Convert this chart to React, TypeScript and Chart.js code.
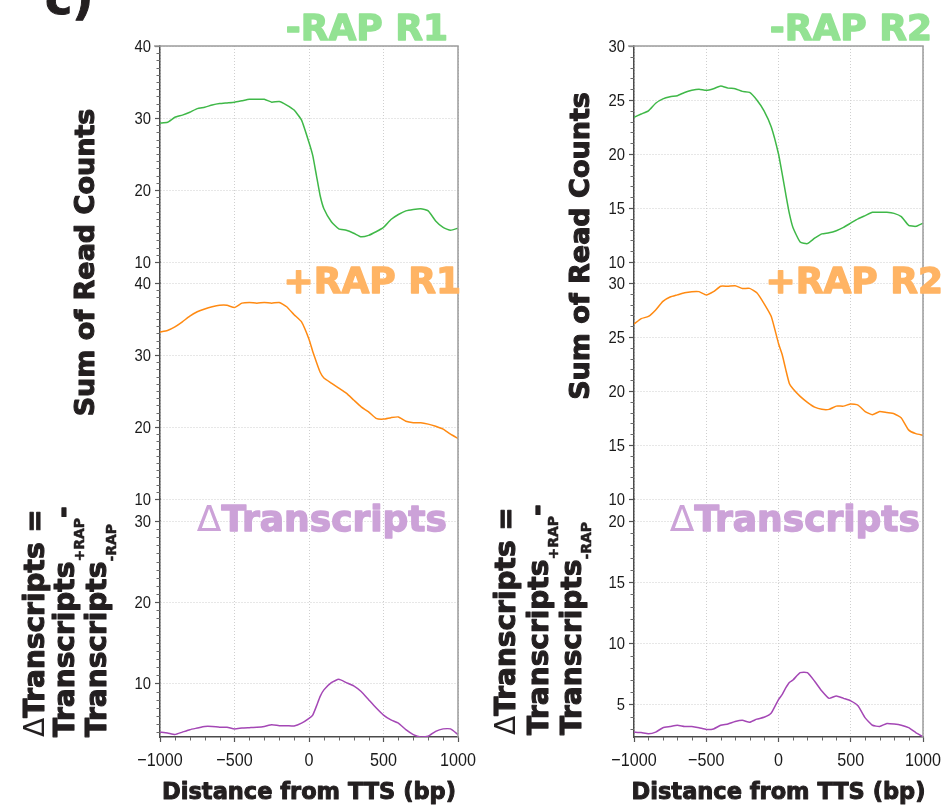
import React, { useEffect, useRef } from 'react';
import { Chart, registerables } from 'chart.js';
Chart.register(...registerables);

// ---------------- data ----------------
const DIST = [
  -1000, -950, -900, -850, -800, -750, -700, -650, -600, -550,
  -500, -450, -400, -350, -300, -250, -200, -150, -100, -50,
  0, 25, 50, 75, 100,
  150, 200, 250, 300, 350, 400, 450, 500, 550, 600, 650, 700, 750, 800, 850, 900, 950, 1000,
];

const MINUS_R1 = [
  29.3, 29.4, 30.1, 30.4, 30.8, 31.3, 31.5, 31.8, 32.0, 32.1,
  32.2, 32.4, 32.6, 32.6, 32.6, 32.2, 32.3, 31.8, 31.1, 29.7,
  26.6, 24.8, 22.0, 19.2, 17.4,
  15.6, 14.6, 14.4, 14.0, 13.5, 13.7, 14.2, 14.8, 15.9, 16.6, 17.1, 17.3, 17.4, 17.1, 15.7, 14.8, 14.4, 14.7,
];
const PLUS_R1 = [
  33.2, 33.4, 33.9, 34.6, 35.4, 36.0, 36.4, 36.7, 36.9, 36.9,
  36.6, 37.2, 37.3, 37.2, 37.3, 37.2, 37.3, 36.7, 35.6, 34.6,
  32.2, 30.5, 29.0, 27.6, 26.8,
  26.1, 25.4, 24.7, 23.75, 22.8, 22.1, 21.2, 21.1, 21.3, 21.4, 20.8, 20.6, 20.6, 20.4, 20.1, 19.7, 19.0, 18.4,
];
const DELTA_R1 = [
  4.0, 3.9, 3.7, 4.0, 4.3, 4.5, 4.7, 4.7, 4.6, 4.6,
  4.4, 4.5, 4.55, 4.6, 4.7, 4.9, 4.8, 4.8, 4.75, 5.1,
  5.7, 6.1, 7.2, 8.4, 9.2,
  10.1, 10.5, 10.1, 9.7, 9.0, 8.0, 7.0, 6.1, 5.5, 5.1, 4.3, 3.7, 3.4, 3.5, 4.1, 4.4, 4.4, 3.7,
];
const MINUS_R2 = [
  23.4, 23.7, 24.0, 24.7, 25.1, 25.3, 25.4, 25.7, 25.9, 26.0,
  25.9, 26.05, 26.3, 26.1, 26.05, 25.8, 25.7, 25.0, 24.0, 22.5,
  20.0, 18.2, 16.3, 14.5, 13.2,
  11.85, 11.7, 12.2, 12.6, 12.7, 12.9, 13.2, 13.6, 14.0, 14.3, 14.6, 14.6, 14.6, 14.5, 14.2, 13.4, 13.3, 13.6,
];
const PLUS_R2 = [
  26.2, 26.7, 26.9, 27.5, 28.3, 28.7, 28.9, 29.1, 29.2, 29.2,
  28.9, 29.2, 29.7, 29.7, 29.75, 29.5, 29.5, 29.1, 28.1, 26.9,
  24.4, 23.4, 22.0, 20.7, 20.2,
  19.5, 18.95, 18.5, 18.3, 18.3, 18.6, 18.6, 18.8, 18.7, 18.1, 17.8, 18.1, 18.0, 17.9, 17.5, 16.4, 16.05, 15.9,
];
const DELTA_R2 = [
  2.74, 2.7, 2.6, 2.74, 3.1, 3.2, 3.3, 3.2, 3.2, 3.1,
  2.96, 3.0, 3.3, 3.4, 3.6, 3.7, 3.55, 3.8, 3.95, 4.3,
  5.4, 5.8, 6.35, 6.8, 7.0,
  7.6, 7.6, 6.9, 6.1, 5.5, 5.7, 5.5, 5.3, 4.9, 3.9, 3.3, 3.2, 3.45, 3.4, 3.3, 3.1, 2.7, 2.35,
];

const X_TICKS = [-1000, -500, 0, 500, 1000];
const Y_TICKS_R1 = [10, 20, 30, 40];
const Y_TICKS_R1_DELTA = [10, 20, 30];
const Y_TICKS_R2 = [10, 15, 20, 25, 30];
const Y_TICKS_R2_DELTA = [5, 10, 15, 20];

const TITLES_R1 = ['-RAP R1', '+RAP R1', 'Transcripts'];
const TITLES_R2 = ['-RAP R2', '+RAP R2', 'Transcripts'];
const Y_LABEL = 'Sum of Read Counts';
const X_LABEL = 'Distance from TTS (bp)';
const PANEL_LETTER = 'c)';

// ---------------- styles ----------------
const TICK_FONT = "'Liberation Sans', Arial, sans-serif";
const BOLD = "'DejaVu Sans', sans-serif";
const C_MINUS = '#3fb848';
const C_PLUS = '#ff8a12';
const C_DELTA = '#a447b5';
const T_MINUS = '#93e293';
const T_PLUS = '#ffb464';
const T_DELTA = '#cca2d8';
const INK = '#231f20';

type Seg = { t: string; f: string; dy?: number; w?: number };

function drawRun(ctx: CanvasRenderingContext2D, segs: Seg[], x: number, y: number, rotate: boolean, align: string, color: string) {
  ctx.save();
  ctx.translate(x, y);
  if (rotate) ctx.rotate(-Math.PI / 2);
  ctx.textBaseline = 'alphabetic';
  ctx.textAlign = 'left';
  ctx.fillStyle = color;
  ctx.strokeStyle = color;
  ctx.lineJoin = 'round';
  let total = 0;
  for (const s of segs) { ctx.font = s.f; total += ctx.measureText(s.t).width; }
  let cx = align === 'right' ? -total : align === 'center' ? -total / 2 : 0;
  for (const s of segs) {
    ctx.font = s.f;
    ctx.fillText(s.t, cx, s.dy || 0);
    if (s.w) {
      ctx.lineWidth = s.w;
      ctx.strokeText(s.t, cx, s.dy || 0);
    }
    cx += ctx.measureText(s.t).width;
  }
  ctx.restore();
}

function drawSquashed(ctx: CanvasRenderingContext2D, text: string, x: number, y: number, align: string, font: string, sx: number) {
  ctx.save();
  ctx.font = font;
  ctx.fillStyle = '#1a1a1a';
  ctx.textBaseline = 'alphabetic';
  ctx.textAlign = 'left';
  const w = ctx.measureText(text).width * sx;
  const left = align === 'right' ? x - w : align === 'center' ? x - w / 2 : x;
  ctx.translate(left, y);
  ctx.scale(sx, 1);
  ctx.fillText(text, 0, 0);
  ctx.restore();
}

type ColCfg = {
  padLeft: number; padRight: number;
  ranges: [number, number][]; majors: number[][];
  series: number[][]; titles: string[];
  titleRight: number[]; titleBase: number[];
  yLabelX: number; yLabelY: number;
  dLabelX: number[]; dLabelY: number;
  letter: boolean;
};

const COLS: ColCfg[] = [
  {
    padLeft: 120, padRight: 945 - 458,
    ranges: [[10, 40], [10, 40], [3.4, 30]],
    majors: [Y_TICKS_R1, Y_TICKS_R1, Y_TICKS_R1_DELTA],
    series: [MINUS_R1, PLUS_R1, DELTA_R1],
    titles: TITLES_R1,
    titleRight: [448, 461, 447], titleBase: [40, 293, 531],
    yLabelX: 94, yLabelY: 262.5,
    dLabelX: [44, 74, 106], dLabelY: 737,
    letter: true,
  },
  {
    padLeft: 594, padRight: 945 - 923,
    ranges: [[10, 30], [10, 30], [2.34, 20]],
    majors: [Y_TICKS_R2, Y_TICKS_R2, Y_TICKS_R2_DELTA],
    series: [MINUS_R2, PLUS_R2, DELTA_R2],
    titles: TITLES_R2,
    titleRight: [932, 943, 920], titleBase: [40, 293, 531],
    yLabelX: 589, yLabelY: 246,
    dLabelX: [515, 548, 581], dLabelY: 735,
    letter: false,
  },
];

const AXIS_IDS = ['yA', 'gap1', 'yB', 'gap2', 'yC'];
const STACK_W = [216, 21, 216, 22, 216];

function makeConfig(col: ColCfg): any {
  const pts = (arr: number[]) => DIST.map((x, i) => ({ x, y: arr[i] }));
  const scales: any = {
    x: {
      type: 'linear', min: -1000, max: 1000,
      afterFit: (s: any) => { s.height = 60; },
      afterBuildTicks: (s: any) => { s.ticks = X_TICKS.map((v) => ({ value: v })); },
      ticks: { display: false, autoSkip: false, maxRotation: 0 },
      grid: { color: '#cfcfcf', lineWidth: 1, tickLength: 5, tickColor: '#555', tickWidth: 1.2 },
      border: { display: true, color: '#4a4a4a', width: 1.5, dash: [1, 2] },
    },
  };
  AXIS_IDS.forEach((id, k) => {
    const isGap = id.startsWith('gap');
    const base: any = {
      type: 'linear', position: 'left', stack: 'col', stackWeight: STACK_W[k], weight: 10 - k,
      afterFit: (s: any) => { s.width = 40; },
      border: { display: true, color: '#4a4a4a', width: 1.5, dash: [1, 2] },
    };
    if (isGap) {
      scales[id] = { ...base, min: 0, max: 1, ticks: { display: false }, grid: { display: false } };
    } else {
      const p = k / 2;
      const majors = col.majors[p];
      scales[id] = {
        ...base,
        min: col.ranges[p][0], max: col.ranges[p][1],
        afterBuildTicks: (s: any) => { s.ticks = majors.map((v) => ({ value: v })); },
        ticks: { display: false, autoSkip: false },
        grid: { color: '#cfcfcf', lineWidth: 1, tickLength: 5, tickColor: '#555', tickWidth: 1.2 },
      };
    }
  });

  const colors = [C_MINUS, C_PLUS, C_DELTA];
  const axisFor = ['yA', 'yB', 'yC'];
  const datasets = col.series.map((s, i) => ({
    data: pts(s), yAxisID: axisFor[i], xAxisID: 'x',
    borderColor: colors[i], borderWidth: 1.5, pointRadius: 0, fill: false, tension: 0.15,
  }));

  const decor = {
    id: 'decor',
    afterDraw(chart: any) {
      const ctx: CanvasRenderingContext2D = chart.ctx;
      const ca = chart.chartArea;
      ctx.save();
      // minor ticks on y axes + tick labels
      ctx.strokeStyle = '#6a6a6a';
      ctx.lineWidth = 1;
      ['yA', 'yB', 'yC'].forEach((id, p) => {
        const s = chart.scales[id];
        const majors = col.majors[p];
        for (let v = Math.ceil(s.min); v <= s.max; v++) {
          if (majors.includes(v)) continue;
          const y = Math.round(s.getPixelForValue(v)) + 0.5;
          ctx.beginPath();
          ctx.moveTo(ca.left - 3.5, y);
          ctx.lineTo(ca.left, y);
          ctx.stroke();
        }
        for (const v of majors) {
          drawSquashed(ctx, String(v), ca.left - 9, s.getPixelForValue(v) + 6, 'right', `17px ${TICK_FONT}`, 0.87);
        }
      });
      // minor ticks on x axis + labels
      const xs = chart.scales.x;
      for (let v = -900; v < 1000; v += 100) {
        if (X_TICKS.includes(v)) continue;
        const x = Math.round(xs.getPixelForValue(v)) + 0.5;
        ctx.beginPath();
        ctx.moveTo(x, ca.bottom);
        ctx.lineTo(x, ca.bottom + 3.5);
        ctx.stroke();
      }
      for (const v of X_TICKS) {
        const txt = v < 0 ? '\u2212' + Math.abs(v) : String(v);
        drawSquashed(ctx, txt, xs.getPixelForValue(v), 766, 'center', `19px ${TICK_FONT}`, 0.85);
      }
      // frame top + right
      ctx.strokeStyle = '#9c9c9c';
      ctx.lineWidth = 1.5;
      ctx.beginPath();
      ctx.moveTo(ca.left - 6, ca.top);
      ctx.lineTo(ca.right, ca.top);
      ctx.lineTo(ca.right, ca.bottom);
      ctx.stroke();

      // panel titles
      const tf = `bold 36px ${BOLD}`;
      drawRun(ctx, [{ t: col.titles[0], f: tf, w: 1.4 }], col.titleRight[0], col.titleBase[0], false, 'right', T_MINUS);
      drawRun(ctx, [{ t: col.titles[1], f: tf, w: 1.4 }], col.titleRight[1], col.titleBase[1], false, 'right', T_PLUS);
      drawRun(ctx, [{ t: '\u0394', f: `36px ${BOLD}` }, { t: col.titles[2], f: tf, w: 1.4 }], col.titleRight[2], col.titleBase[2], false, 'right', T_DELTA);

      // y axis label
      drawRun(ctx, [{ t: Y_LABEL, f: `bold 27px ${BOLD}`, w: 1.1 }], col.yLabelX, col.yLabelY, true, 'center', INK);

      // delta axis label (3 lines)
      const lf = `bold 28px ${BOLD}`;
      const sf = `bold 14px ${BOLD}`;
      drawRun(ctx, [{ t: '\u0394', f: `28px ${BOLD}` }, { t: 'Transcripts =', f: lf, w: 1.1 }], col.dLabelX[0], col.dLabelY, true, 'left', INK);
      drawRun(ctx, [{ t: 'Transcripts', f: lf, w: 1.1 }, { t: '+RAP', f: sf, dy: 10, w: 0.5 }, { t: '-', f: lf, dy: -2, w: 1.1 }], col.dLabelX[1], col.dLabelY, true, 'left', INK);
      drawRun(ctx, [{ t: 'Transcripts', f: lf, w: 1.1 }, { t: '-RAP', f: sf, dy: 10, w: 0.5 }], col.dLabelX[2], col.dLabelY, true, 'left', INK);

      // x axis label
      drawRun(ctx, [{ t: X_LABEL, f: `bold 22.5px ${BOLD}`, w: 1 }], (ca.left + ca.right) / 2, 799, false, 'center', INK);

      if (col.letter) {
        drawRun(ctx, [{ t: PANEL_LETTER, f: `bold 46px ${BOLD}`, w: 1 }], 45, 14, false, 'left', INK);
      }
      ctx.restore();
    },
  };

  return {
    type: 'line',
    data: { datasets },
    options: {
      responsive: false,
      animation: false,
      events: [],
      layout: { padding: { left: col.padLeft, right: col.padRight, top: 46, bottom: 10 }, autoPadding: false },
      plugins: { legend: { display: false }, tooltip: { enabled: false } },
      scales,
    },
    plugins: [decor],
  };
}

function Column({ col }: { col: ColCfg }) {
  const ref = useRef<HTMLCanvasElement | null>(null);
  useEffect(() => {
    if (!ref.current) return;
    const chart = new Chart(ref.current, makeConfig(col));
    return () => chart.destroy();
  }, [col]);
  return (
    <canvas
      ref={ref}
      width={945}
      height={807}
      style={{ position: 'absolute', left: 0, top: 0, width: 945, height: 807 }}
    />
  );
}

export default function App() {
  return (
    <div style={{ position: 'absolute', left: 0, top: 0, width: 945, height: 807, background: '#fff' }}>
      {COLS.map((c, i) => (
        <Column key={i} col={c} />
      ))}
    </div>
  );
}
